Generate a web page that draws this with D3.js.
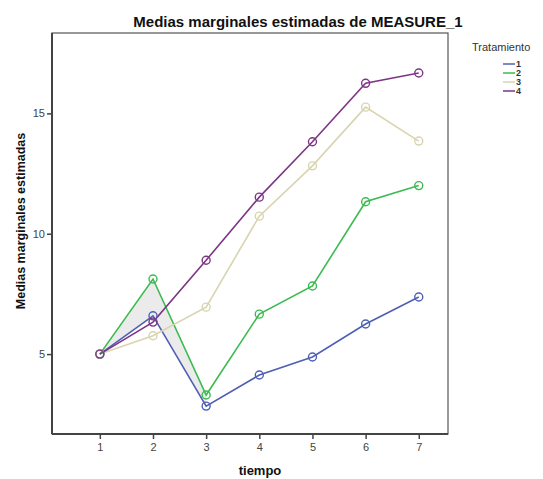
<!DOCTYPE html>
<html>
<head>
<meta charset="utf-8">
<script src="https://cdn.jsdelivr.net/npm/d3@7/dist/d3.min.js"></script>
<style>
body{margin:0;background:#fff;}
svg{display:block;font-family:"Liberation Sans",Arial,sans-serif;}
</style>
</head>
<body>
<svg id="chart" width="543" height="479"></svg>
<script>
const tiempo = [1, 2, 3, 4, 5, 6, 7];
const tratamiento = ["1", "2", "3", "4"];
const serie1 = [5.0, 6.59, 2.84, 4.13, 4.88, 6.25, 7.37];
const serie2 = [5.0, 8.12, 3.30, 6.66, 7.83, 11.33, 12.0];
const serie3 = [5.0, 5.76, 6.95, 10.73, 12.82, 15.26, 13.85];
const serie4 = [5.0, 6.33, 8.90, 11.52, 13.82, 16.25, 16.68];
const yTicks = [5, 10, 15];
const colors = ["#4f5fb5", "#3bbb50", "#d8d4b0", "#7d3585"];

const series = [serie1, serie2, serie3, serie4];
const svg = d3.select("#chart");
const L = 52, T = 33, R = 448, B = 434;
const x = d3.scaleLinear().domain([0.1, 7.55]).range([L, R]);
const y = d3.scaleLinear().domain([1.68, 18.34]).range([B, T]);

// shaded area between series 2 and series 1 (tiempo 1..3)
const poly = [];
for (let i = 0; i < 3; i++) poly.push([x(tiempo[i]), y(serie2[i])]);
for (let i = 2; i >= 0; i--) poly.push([x(tiempo[i]), y(serie1[i])]);
svg.append("polygon").attr("points", poly.map(p => p.join(",")).join(" "))
  .attr("fill", "#ebebeb").attr("stroke", "none");

// frame
svg.append("rect").attr("x", L).attr("y", T).attr("width", R - L).attr("height", B - T)
  .attr("fill", "none").attr("stroke", "#555").attr("stroke-width", 1.2);

// axes
const xAxis = d3.axisBottom(x).tickValues(tiempo).tickSize(5).tickSizeOuter(0).tickPadding(4);
const gx = svg.append("g").attr("transform", `translate(0,${B})`).call(xAxis);
const yAxis = d3.axisLeft(y).tickValues(yTicks).tickSize(5).tickSizeOuter(0).tickPadding(2);
const gy = svg.append("g").attr("transform", `translate(${L},0)`).call(yAxis);
[gx, gy].forEach(g => {
  g.select(".domain").attr("stroke", "#444").attr("stroke-width", 2);
  g.selectAll(".tick line").attr("stroke", "#444").attr("stroke-width", 1.5);
  g.selectAll(".tick text").attr("fill", "#444").attr("font-size", 11)
    .attr("font-family", "Liberation Sans, Arial, sans-serif");
});
gx.select(".domain").attr("d", `M${L},0H${R}`);
gy.select(".domain").attr("d", `M0,${T}V${B}`);

// lines and markers
const line = d3.line().x((d, i) => x(tiempo[i])).y(d => y(d));
series.forEach((s, k) => {
  svg.append("path").datum(s).attr("d", line).attr("fill", "none")
    .attr("stroke", colors[k]).attr("stroke-width", 1.6);
});
series.forEach((s, k) => {
  svg.append("g").selectAll("circle").data(s).join("circle")
    .attr("cx", (d, i) => x(tiempo[i])).attr("cy", d => y(d)).attr("r", 4)
    .attr("fill", "none").attr("stroke", colors[k]).attr("stroke-width", 1.4);
});

// title
svg.append("text").attr("x", 298).attr("y", 27).attr("text-anchor", "middle")
  .attr("font-size", 15).attr("font-weight", "bold").attr("fill", "#111")
  .text("Medias marginales estimadas de MEASURE_1");

// axis titles
svg.append("text").attr("x", 260).attr("y", 475).attr("text-anchor", "middle")
  .attr("font-size", 13).attr("font-weight", "bold").attr("fill", "#111").text("tiempo");
svg.append("text").attr("transform", `translate(25,221) rotate(-90)`)
  .attr("text-anchor", "middle").attr("font-size", 12.5).attr("font-weight", "bold")
  .attr("fill", "#111").text("Medias marginales estimadas");

// legend
svg.append("text").attr("x", 472).attr("y", 51).attr("font-size", 11).attr("fill", "#333")
  .text("Tratamiento");
const lg = svg.append("g").selectAll("g").data(tratamiento).join("g")
  .attr("transform", (d, i) => `translate(0,${64 + i * 9})`);
lg.append("line").attr("x1", 503).attr("x2", 515).attr("y1", 0).attr("y2", 0)
  .attr("stroke", (d, i) => colors[i]).attr("stroke-width", 1.5);
lg.append("text").attr("x", 516).attr("y", 3.2).attr("font-size", 9).attr("font-weight", "bold")
  .attr("fill", "#333").text(d => d);
</script>
</body>
</html>
